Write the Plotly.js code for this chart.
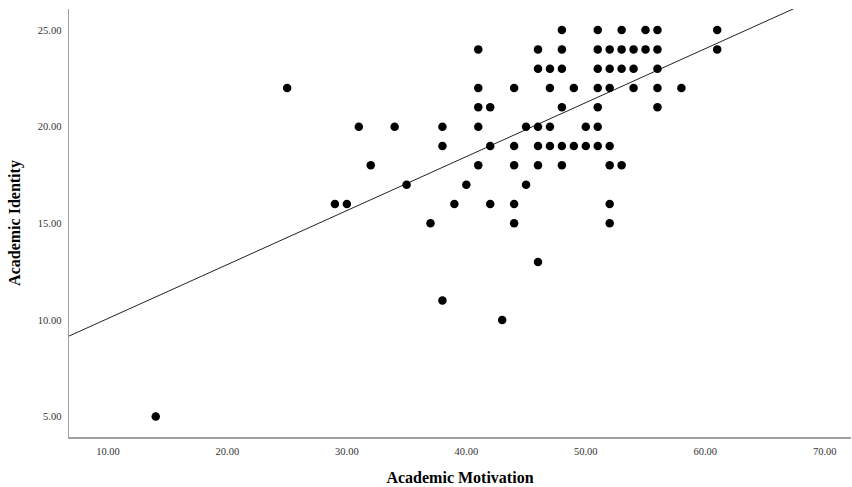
<!DOCTYPE html>
<html>
<head>
<meta charset="utf-8">
<script src="https://cdn.plot.ly/plotly-3.0.1.min.js"></script>
<style>html,body{margin:0;padding:0;background:#fff;}#chart{width:852px;height:487px;}</style>
</head>
<body>
<div id="chart"></div>
<script>
// Academic Motivation (x) and Academic Identity (y), read row by row
const motivation = [
  48, 51, 53, 55, 56, 61,
  41, 46, 48, 51, 52, 53, 54, 55, 56, 61,
  46, 47, 48, 51, 52, 53, 54, 56,
  25, 41, 44, 47, 49, 51, 52, 54, 56, 58,
  41, 42, 48, 51, 56,
  31, 34, 38, 41, 45, 46, 47, 50, 51,
  38, 42, 44, 46, 47, 48, 49, 50, 51, 52,
  32, 41, 44, 46, 48, 52, 53,
  35, 40, 45,
  29, 30, 39, 42, 44, 52,
  37, 44, 52,
  46,
  38,
  43,
  14
];
const identity = [
  25, 25, 25, 25, 25, 25,
  24, 24, 24, 24, 24, 24, 24, 24, 24, 24,
  23, 23, 23, 23, 23, 23, 23, 23,
  22, 22, 22, 22, 22, 22, 22, 22, 22, 22,
  21, 21, 21, 21, 21,
  20, 20, 20, 20, 20, 20, 20, 20, 20,
  19, 19, 19, 19, 19, 19, 19, 19, 19, 19,
  18, 18, 18, 18, 18, 18, 18,
  17, 17, 17,
  16, 16, 16, 16, 16, 16,
  15, 15, 15,
  13,
  11,
  10,
  5
];
// Fit line
const fitIntercept = 7.28;
const fitSlope = 0.2793;
const xTicks = [10, 20, 30, 40, 50, 60, 70];
const yTicks = [5, 10, 15, 20, 25];
const xRange = [6.74, 72.2];
const yRange = [3.94, 26.09];

const fitX = [xRange[0], xRange[1]];
const fitY = fitX.map(v => fitIntercept + fitSlope * v);

const tickFont = {family: 'Liberation Serif, serif', size: 10.5, color: '#333'};
const titleFont = {family: 'Liberation Serif, serif', size: 16, color: '#000', weight: 'bold'};

const traces = [
  {
    x: fitX, y: fitY, mode: 'lines', type: 'scatter',
    line: {color: '#222', width: 1}, hoverinfo: 'skip', cliponaxis: true
  },
  {
    x: motivation, y: identity, mode: 'markers', type: 'scatter',
    marker: {color: '#000', size: 8.5, line: {width: 0}}
  }
];

const layout = {
  width: 852, height: 487,
  margin: {l: 69, r: 1, t: 9, b: 50},
  paper_bgcolor: '#fff', plot_bgcolor: '#fff',
  showlegend: false,
  xaxis: {
    range: xRange, tickvals: xTicks, ticktext: xTicks.map(v => v.toFixed(2)),
    showgrid: false, zeroline: false, showline: true, linecolor: '#a0a0a0', linewidth: 1.5,
    ticks: '', tickfont: tickFont, ticklabelstandoff: 4,
    title: {text: 'Academic Motivation', font: titleFont, standoff: 15}
  },
  yaxis: {
    range: yRange, tickvals: yTicks, ticktext: yTicks.map(v => v.toFixed(2)),
    showgrid: false, zeroline: false, showline: true, linecolor: '#a0a0a0', linewidth: 1.5,
    ticks: '', tickfont: tickFont, ticklabelstandoff: 4,
    title: {text: 'Academic Identity', font: titleFont, standoff: 13}
  }
};

Plotly.newPlot('chart', traces, layout, {staticPlot: true, displayModeBar: false});
</script>
</body>
</html>
